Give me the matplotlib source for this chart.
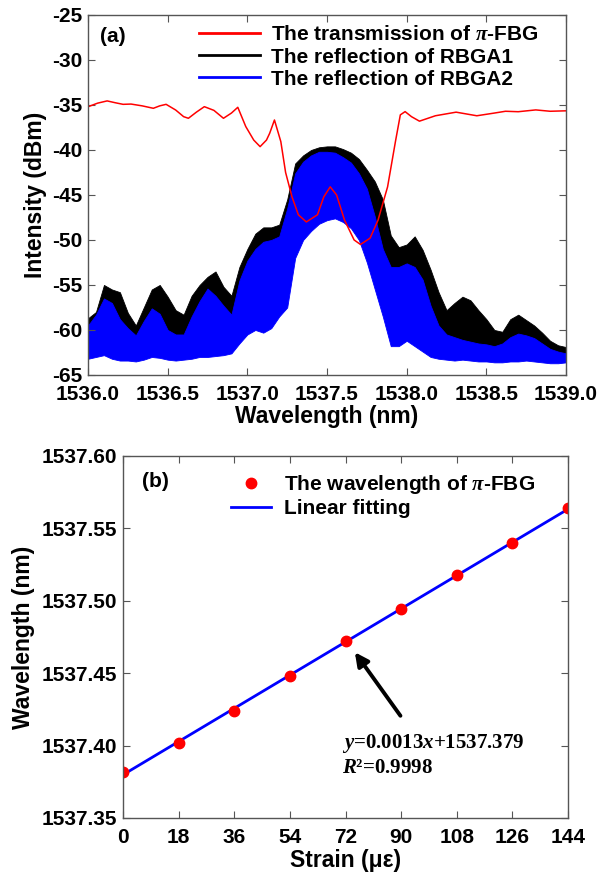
import numpy as np
import matplotlib.pyplot as plt

plt.rcParams['font.family'] = ['Liberation Sans', 'DejaVu Sans']
plt.rcParams['font.weight'] = 'bold'
plt.rcParams['axes.labelweight'] = 'bold'
plt.rcParams['axes.unicode_minus'] = False
plt.rcParams['mathtext.fontset'] = 'custom'
plt.rcParams['mathtext.rm'] = 'Liberation Serif:bold'
plt.rcParams['mathtext.it'] = 'Liberation Serif:italic:bold'
plt.rcParams['mathtext.bf'] = 'Liberation Serif:bold'

# (a) transmission of pi-FBG
red_wl = np.array([1536.00, 1536.06, 1536.12, 1536.17, 1536.22, 1536.27, 1536.34, 1536.41,
                   1536.45, 1536.49, 1536.55, 1536.60, 1536.63, 1536.68, 1536.73, 1536.79,
                   1536.85, 1536.90, 1536.94, 1536.99, 1537.04, 1537.08, 1537.12, 1537.14,
                   1537.17, 1537.21, 1537.24, 1537.28, 1537.32, 1537.37, 1537.44, 1537.48,
                   1537.52, 1537.56, 1537.61, 1537.67, 1537.71, 1537.77, 1537.82, 1537.88,
                   1537.93, 1537.96, 1537.99, 1538.03, 1538.08, 1538.13, 1538.18, 1538.31,
                   1538.44, 1538.55, 1538.62, 1538.70, 1538.81, 1538.90, 1539.00])
red_db = np.array([-35.2, -34.8, -34.55, -34.75, -34.93, -34.9, -35.1, -35.37,
                   -35.1, -34.93, -35.56, -36.3, -36.48, -35.8, -35.19, -35.6,
                   -36.48, -35.9, -35.26, -37.4, -38.9, -39.63, -38.9, -38.15,
                   -36.67, -39.07, -42.5, -45.2, -47.2, -48.0, -47.2, -45.2,
                   -44.1, -45.0, -47.8, -50.0, -50.5, -49.8, -47.8, -44.1,
                   -39.0, -36.1, -35.74, -36.3, -36.8, -36.5, -36.2, -35.8,
                   -36.2, -35.9, -35.7, -35.75, -35.55, -35.7, -35.65])

# (a) reflection of RBGA1 / RBGA2: upper and lower edge of the noisy traces
refl_wl = np.arange(1536.0, 1539.001, 0.05)
rbga1_top = np.array([-58.7, -58.0, -55.0, -55.5, -55.8, -58.1, -59.5, -57.5, -55.5, -55.0,
                      -56.3, -57.8, -58.3, -56.2, -55.0, -54.1, -53.5, -55.2, -56.2, -53.0,
                      -51.0, -49.3, -48.6, -48.6, -48.3, -45.5, -41.5, -40.6, -40.0, -39.7,
                      -39.6, -39.6, -39.9, -40.3, -41.0, -42.2, -43.5, -45.5, -49.5, -50.8,
                      -50.5, -49.6, -51.1, -53.3, -55.8, -57.8, -57.0, -56.3, -56.7, -57.8,
                      -58.8, -60.0, -60.2, -58.8, -58.3, -58.9, -59.5, -60.3, -61.2, -61.7,
                      -61.9])
rbga1_low = np.array([-62.8, -62.6, -62.4, -62.8, -63.0, -63.0, -63.1, -62.9, -62.6, -62.7,
                      -62.9, -63.0, -62.9, -62.8, -62.6, -62.6, -62.5, -62.4, -62.2, -61.0,
                      -60.0, -59.5, -59.8, -59.3, -58.0, -56.5, -51.0, -49.0, -48.0, -47.5,
                      -47.0, -46.8, -47.2, -48.0, -49.0, -51.0, -54.0, -57.5, -60.5, -61.0,
                      -60.5, -61.0, -61.8, -62.5, -62.8, -62.9, -63.0, -62.9, -63.0, -63.1,
                      -63.1, -63.2, -63.2, -63.1, -63.1, -63.0, -63.1, -63.2, -63.3, -63.3,
                      -63.2])
rbga2_top = np.array([-59.5, -58.3, -56.5, -57.0, -58.8, -59.8, -60.6, -59.0, -57.6, -58.2,
                      -60.0, -60.5, -60.5, -58.5, -56.8, -55.4, -56.2, -57.3, -58.3, -54.5,
                      -52.3, -51.0, -50.2, -50.0, -49.6, -46.5, -42.6, -41.3, -40.6, -40.2,
                      -40.2, -40.3, -40.8, -41.4, -42.6, -44.3, -47.4, -51.0, -53.0, -53.0,
                      -52.6, -53.0, -54.4, -57.3, -59.5, -60.5, -60.8, -61.1, -61.3, -61.5,
                      -61.6, -61.8, -61.5, -60.8, -60.4, -60.6, -60.9, -61.5, -62.1, -62.4,
                      -62.6])
rbga2_low = np.array([-63.2, -63.0, -62.8, -63.2, -63.4, -63.4, -63.5, -63.3, -63.0, -63.1,
                      -63.3, -63.4, -63.3, -63.2, -63.0, -63.0, -62.9, -62.8, -62.6, -61.5,
                      -60.5, -60.0, -60.3, -59.8, -58.5, -57.5, -52.0, -50.0, -49.0, -48.2,
                      -47.8, -47.6, -48.0, -48.7, -50.0, -52.5, -55.5, -58.5, -61.8, -61.8,
                      -61.2, -61.8, -62.4, -63.0, -63.2, -63.3, -63.4, -63.3, -63.4, -63.5,
                      -63.5, -63.6, -63.6, -63.5, -63.5, -63.4, -63.5, -63.6, -63.7, -63.7,
                      -63.6])

# (b) strain response of the pi-FBG notch
strain = np.array([0, 18, 36, 54, 72, 90, 108, 126, 144])
peak_wl = np.array([1537.382, 1537.402, 1537.424, 1537.448, 1537.472,
                    1537.494, 1537.518, 1537.540, 1537.564])

fig = plt.figure(figsize=(6, 8.8), dpi=100)
ax1 = fig.add_axes([0.1467, 0.5739, 0.7967, 0.4091])
ax2 = fig.add_axes([0.205, 0.0705, 0.7417, 0.4114])

ax1.fill_between(refl_wl, rbga1_low, rbga1_top, color='black', lw=0.6)
ax1.fill_between(refl_wl, rbga2_low, rbga2_top, color='blue', lw=0.6)
ax1.plot(red_wl, red_db, color='red', lw=1.1)
h1, = ax1.plot([], [], color='red', lw=2)
h2, = ax1.plot([], [], color='black', lw=2)
h3, = ax1.plot([], [], color='blue', lw=2)
ax1.legend([h1, h2, h3],
           ['The transmission of $\\pi$-FBG', 'The reflection of RBGA1', 'The reflection of RBGA2'],
           loc='upper left', bbox_to_anchor=(0.2155, 0.994), frameon=False, fontsize=15,
           handlelength=2.9, handletextpad=0.53, labelspacing=0.15, borderaxespad=0)
ax1.text(0.025, 0.939, '(a)', transform=ax1.transAxes, fontsize=15, fontweight='bold', va='center')
ax1.set_xlim(1536, 1539)
ax1.set_ylim(-65, -25)
ax1.set_xticks(np.arange(1536, 1539.01, 0.5))
ax1.set_xticklabels(['1536.0', '1536.5', '1537.0', '1537.5', '1538.0', '1538.5', '1539.0'])
ax1.set_yticks(np.arange(-65, -24, 5))
ax1.set_xlabel('Wavelength (nm)', fontsize=16.5, labelpad=1)
ax1.set_ylabel('Intensity (dBm)', fontsize=16.5, labelpad=4)

fit = np.poly1d(np.polyfit(strain, peak_wl, 1))
xs = np.array([0, 144])
ax2.plot(xs, fit(xs), color='blue', lw=2, label='Linear fitting')
ax2.plot(strain, peak_wl, 'o', color='red', ms=7.5, label='The wavelength of $\\pi$-FBG')
hh, ll = ax2.get_legend_handles_labels()
ax2.legend(hh[::-1], ll[::-1], loc='upper left', bbox_to_anchor=(0.225, 0.975),
           frameon=False, fontsize=15, handlelength=1.9, handletextpad=0.63,
           labelspacing=0.15, borderaxespad=0)
ax2.text(0.043, 0.928, '(b)', transform=ax2.transAxes, fontsize=15, fontweight='bold', va='center')
ax2.annotate('', xy=(74.5, 1537.466), xytext=(90.3, 1537.419),
             arrowprops=dict(arrowstyle='-|>', color='black', lw=2.8, mutation_scale=20))
ax2.text(70.9, 1537.3983, '$y$=0.0013$x$+1537.379', fontsize=15,
         family='Liberation Serif', fontweight='bold', va='baseline')
ax2.text(70.9, 1537.381, '$R$\u00b2=0.9998', fontsize=15,
         family='Liberation Serif', fontweight='bold', va='baseline')
ax2.set_xlim(0, 144)
ax2.set_ylim(1537.35, 1537.60)
ax2.set_xticks(strain)
ax2.set_yticks(np.arange(1537.35, 1537.601, 0.05))
ax2.set_yticklabels(['1537.35', '1537.40', '1537.45', '1537.50', '1537.55', '1537.60'])
ax2.set_xlabel('Strain (\u03bc\u03b5)', fontsize=16.5, labelpad=2)
ax2.set_ylabel('Wavelength (nm)', fontsize=16.5, labelpad=5)

for ax in (ax1, ax2):
    ax.tick_params(direction='in', top=True, right=True, labelsize=15, length=5,
                   color='#555555')
    ax.tick_params(axis='x', pad=7)
    ax.tick_params(axis='y', pad=4)
    for s in ax.spines.values():
        s.set_color('#555555')
        s.set_linewidth(1)

fig.savefig('out.png', dpi=100)
